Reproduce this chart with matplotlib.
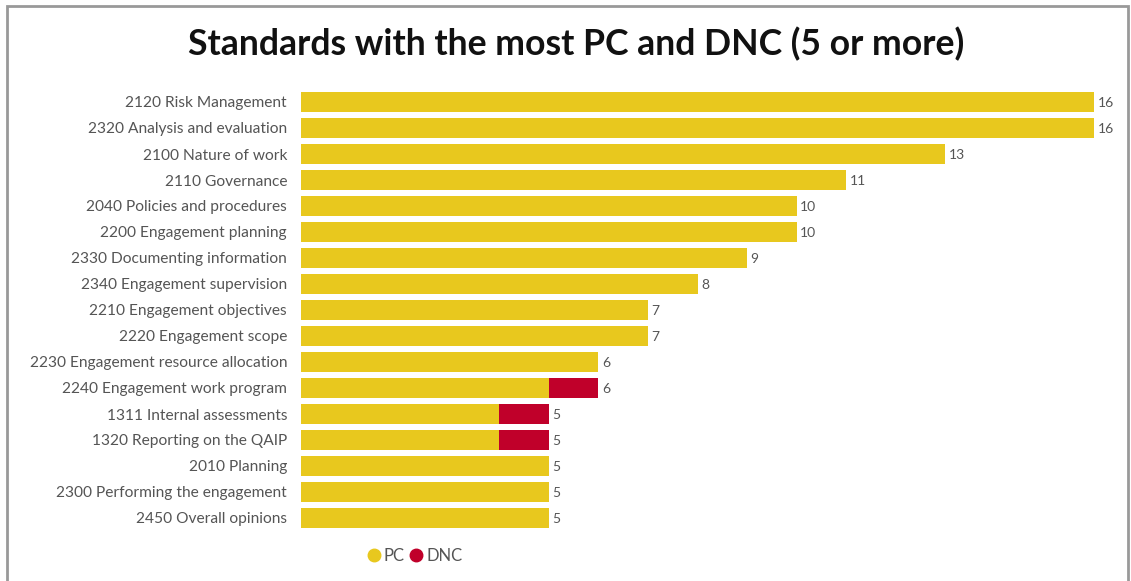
import matplotlib.pyplot as plt
from matplotlib.patches import Rectangle
from matplotlib.lines import Line2D

# -----------------------------
# Daten
# -----------------------------
standards = [
    "2120 Risk Management",
    "2320 Analysis and evaluation",
    "2100 Nature of work",
    "2110 Governance",
    "2040 Policies and procedures",
    "2200 Engagement planning",
    "2330 Documenting information",
    "2340 Engagement supervision",
    "2210 Engagement objectives",
    "2220 Engagement scope",
    "2230 Engagement resource allocation",
    "2240 Engagement work program",
    "1311 Internal assessments",
    "1320 Reporting on the QAIP",
    "2010 Planning",
    "2300 Performing the engagement",
    "2450 Overall opinions",
]
pc = [16, 16, 13, 11, 10, 10, 9, 8, 7, 7, 6, 5, 4, 4, 5, 5, 5]
dnc = [0, 0, 0, 0, 0, 0, 0, 0, 0, 0, 0, 1, 1, 1, 0, 0, 0]

YELLOW = "#E8C81E"
RED = "#C0002A"
GREY = "#555555"

plt.rcParams["font.family"] = ["Lato", "DejaVu Sans"]

fig = plt.figure(figsize=(11.31, 5.81), dpi=100)
W, H = 1131, 581

# Rahmen
fig.patches.append(Rectangle((7 / W, -0.05), 1121 / W, 1.05 - 6 / H,
                             transform=fig.transFigure, fill=False,
                             edgecolor="#999999", linewidth=2))

ax = fig.add_axes([301 / W, 1 - 531 / H, 793 / W, 442 / H])
y = list(range(len(standards)))
ax.barh(y, pc, height=0.8, color=YELLOW)
ax.barh(y, dnc, left=pc, height=0.8, color=RED)

for i in y:
    total = pc[i] + dnc[i]
    ax.text(total + 0.07, i + 0.03, str(total), va="center", ha="left",
            fontsize=10, color=GREY)

ax.set_xlim(0, 16)
ax.set_ylim(16.5, -0.5)
ax.set_yticks(y)
ax.set_yticklabels(standards, fontsize=11.2, color=GREY)
ax.tick_params(axis="y", length=0, pad=10)
ax.set_xticks([])
for s in ax.spines.values():
    s.set_visible(False)

fig.text(576 / W, 1 - 44 / H, "Standards with the most PC and DNC (5 or more)",
         ha="center", va="center", fontsize=25.7, fontweight="bold", color="#111111")

# Legende
handles = [Line2D([], [], marker="o", linestyle="", markersize=9, color=YELLOW),
           Line2D([], [], marker="o", linestyle="", markersize=9, color=RED)]
fig.legend(handles, ["PC", "DNC"], loc="center", bbox_to_anchor=(414 / W, 1 - 556 / H),
           ncol=2, frameon=False, fontsize=12, handletextpad=0.1,
           columnspacing=0.2, handlelength=1.0, labelcolor=GREY)

fig.savefig("out.png", dpi=100)
